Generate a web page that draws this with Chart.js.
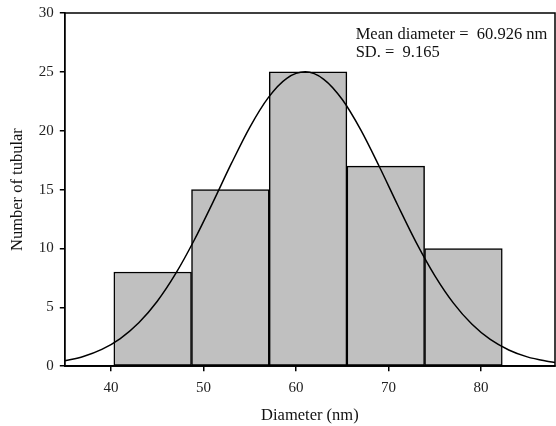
<!DOCTYPE html>
<html>
<head>
<meta charset="utf-8">
<script src="https://cdn.jsdelivr.net/npm/chart.js@4/dist/chart.umd.min.js"></script>
<style>
  html, body { margin: 0; padding: 0; background: #fff; }
  #wrap { width: 556px; height: 426px; }
</style>
</head>
<body>
<div id="wrap"><canvas id="myChart" width="556" height="426"></canvas></div>
<script>
// histogram bins (nm) and counts
const binEdges = [40.3, 48.7, 57.1, 65.5, 73.9, 82.3]
const counts = [8, 15, 25, 17, 10]

// fitted curve
const curveX = [35, 37, 39, 41, 43, 45, 47, 49, 51, 53, 55, 57, 59, 61, 63, 65, 67, 69, 71, 73, 75, 77, 79, 81, 83, 85, 87, 88]
const curveY = [0.46, 0.83, 1.43, 2.35, 3.69, 5.52, 7.88, 10.72, 13.9, 17.2, 20.29, 22.81, 24.45, 25.0, 24.37, 22.65, 20.07, 16.96, 13.67, 10.5, 7.7, 5.38, 3.58, 2.27, 1.38, 0.79, 0.44, 0.32]

const xTicks = [40, 50, 60, 70, 80]
const yTicks = [0, 5, 10, 15, 20, 25, 30]
const statLines = ['Mean diameter =  60.926 nm', 'SD. =  9.165']

const bars = counts.map((c, i) => ({ x: (binEdges[i] + binEdges[i + 1]) / 2, y: c }))
const curve = curveX.map((x, i) => ({ x, y: curveY[i] }))

const font = 'Liberation Serif'

// box round the plot and the stats text
const framePlugin = {
    id: 'frame',
    afterDatasetsDraw(chart) {
        const { ctx, chartArea: a, scales } = chart
        ctx.save()
        ctx.strokeStyle = '#000'
        ctx.lineWidth = 1.5
        ctx.strokeRect(a.left, a.top, a.right - a.left, a.bottom - a.top)
        ctx.fillStyle = '#111'
        ctx.font = '16.5px "' + font + '"'
        ctx.textBaseline = 'middle'
        const x = scales.x.getPixelForValue(66.45)
        statLines.forEach((t, i) => {
            ctx.fillText(t, x, scales.y.getPixelForValue(28.2 - i * 1.55))
        })
        ctx.restore()
    }
}

const canvas = document.getElementById('myChart')

const config = {
    type: 'bar',
    data: {
        datasets: [{
            type: 'line',
            data: curve,
            borderColor: '#000',
            borderWidth: 1.5,
            pointRadius: 0,
            cubicInterpolationMode: 'monotone',
            fill: false,
            order: 0
        }, {
            type: 'bar',
            data: bars,
            backgroundColor: '#c0c0c0',
            borderColor: '#000',
            borderWidth: 1.5,
            borderSkipped: false,
            barPercentage: 1,
            categoryPercentage: 1,
            order: 1
        }]
    },
    options: {
        responsive: false,
        animation: false,
        plugins: {
            legend: { display: false },
            tooltip: { enabled: false }
        },
        layout: {
            padding: { top: 13, right: 1, left: 8, bottom: 0 }
        },
        scales: {
            x: {
                type: 'linear',
                min: 35,
                max: 88,
                offset: false,
                afterBuildTicks: s => { s.ticks = xTicks.map(v => ({ value: v })) },
                grid: { offset: false, drawOnChartArea: false, drawTicks: true, tickLength: 5, color: '#000', lineWidth: 1.5 },
                border: { display: true, color: '#000', width: 1.5 },
                ticks: { color: '#222', font: { family: font, size: 15 }, padding: 8, maxRotation: 0 },
                title: { display: true, text: 'Diameter (nm)', color: '#111', font: { family: font, size: 16.5 }, padding: { top: 1, bottom: 0 } }
            },
            y: {
                min: 0,
                max: 30,
                afterBuildTicks: s => { s.ticks = yTicks.map(v => ({ value: v })) },
                afterFit: s => { s.paddingTop = 0 },
                grid: { offset: false, drawOnChartArea: false, drawTicks: true, tickLength: 5, color: '#000', lineWidth: 1.5 },
                border: { display: true, color: '#000', width: 1.5 },
                ticks: { color: '#222', font: { family: font, size: 15 }, padding: 6 },
                title: { display: true, text: 'Number of tubular', color: '#111', font: { family: font, size: 16.5 }, padding: { top: 0, bottom: 5 } }
            }
        }
    },
    plugins: [framePlugin]
}

if (canvas) {
    new Chart(canvas, config)
}
</script>
</body>
</html>
